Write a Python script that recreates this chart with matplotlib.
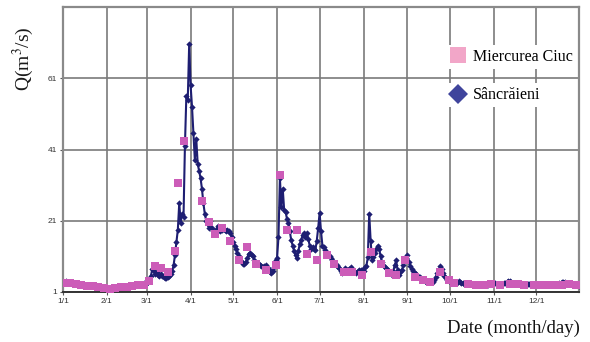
import numpy as np
import matplotlib
matplotlib.use("Agg")
import matplotlib.pyplot as plt
from matplotlib.lines import Line2D

plt.rcParams['mathtext.fontset'] = 'stix'

# Daily discharge at Sâncrăieni (m3/s), one row per month
q_sancraieni = [
    3.6, 3.8, 4.0, 3.9, 3.7, 3.6, 3.5, 3.5, 3.4, 3.3, 3.2, 3.1, 3.0, 3.0, 2.9, 2.8,
    2.8, 2.7, 2.8, 2.9, 2.8, 2.7, 2.6, 2.5, 2.5, 2.4, 2.3, 2.3, 2.2, 2.1, 2.0,
    2.0, 2.1, 2.2, 2.2, 2.3, 2.2, 2.1, 2.2, 2.3, 2.4, 2.4, 2.3, 2.4, 2.5, 2.6, 2.6,
    2.5, 2.6, 2.7, 2.8, 2.9, 3.0, 3.0, 3.1, 3.2, 3.3, 3.4, 3.5,
    3.6, 3.8, 4.2, 5.5, 7.5, 7.0, 6.0, 6.5, 5.8, 5.5, 6.0, 5.6, 5.3, 5.0, 5.0, 5.3,
    5.6, 6.0, 6.8, 8.5, 11.5, 15, 18.5, 26, 20.5, 23, 22, 42, 56, 55, 70.5,
    59, 53, 45.5, 38, 44, 37, 35, 33, 30, 26, 23, 21, 20, 19, 21,
    19, 18, 17.5, 18.5, 19.5, 18.5, 18, 18.5, 19, 18.5, 18, 18.5, 18, 17.5, 16.5,
    15, 14, 13, 12, 11, 10, 9.5, 9, 9, 9.5, 10.5, 11.8, 12, 11.3, 11, 10,
    9.2, 9, 8.8, 8.5, 8.3, 8, 8.2, 8.5, 8, 7.5, 6.5, 6.3, 7, 8, 10,
    10.5, 16.5, 33, 25, 30, 24, 23.5, 21.5, 20.5, 18, 15.5, 14, 12.5, 11.3, 10.5,
    12.5, 14.5, 15.5, 17, 17.5, 16.3, 17.6, 16, 14, 13.2, 13.5, 13, 12.7, 15.4, 19,
    23.2, 18, 14, 13.5, 12.7, 12, 11.3, 11, 10.5, 10, 9.3, 9, 8.5, 8, 7.7, 7,
    6.3, 7.2, 7.7, 7.3, 7.1, 7.5, 8, 7.3, 6.6, 6.5, 6.3, 6.8, 7.1, 7.1, 7.1,
    7, 8, 8.3, 10.7, 23, 15.4, 9.9, 10.7, 12, 13, 14, 13.2, 11, 9.3, 8.5, 8,
    7.7, 7.2, 6.8, 6.2, 5.7, 7, 8.5, 9.9, 7.1, 5.7, 6.5, 7.1, 8.5, 10, 10.5,
    11.3, 9.5, 8.3, 7.5, 6.8, 6.4, 6, 5.6, 5.3, 5.1, 4.7, 4.3, 4.1, 3.9, 3.8,
    3.8, 3.8, 3.7, 3.9, 4.5, 5.2, 6.3, 7.2, 8.2, 7.5, 6.3, 5.4, 4.9, 4.5, 4.2,
    4.0, 3.8, 3.6, 3.5, 3.5, 3.6, 4.0, 3.8, 3.5, 3.4, 3.3, 3.3, 3.2, 3.2, 3.3, 3.2,
    3.2, 3.1, 3.1, 3.2, 3.2, 3.1, 3.1, 3.0, 3.1, 3.2, 3.1, 3.1, 3.2, 3.3, 3.5,
    3.6, 3.4, 3.3, 3.2, 3.2, 3.3, 3.3, 3.4, 3.6, 3.9, 4.2, 4.0, 3.7, 3.5, 3.4,
    3.3, 3.4, 3.5, 3.5, 3.4, 3.3, 3.2, 3.2, 3.3, 3.3, 3.2, 3.2, 3.1, 3.1, 3.2,
    3.2, 3.3, 3.3, 3.2, 3.2, 3.1, 3.1, 3.2, 3.2, 3.1, 3.1, 3.1, 3.2, 3.2, 3.3, 3.3,
    3.4, 3.5, 3.7, 3.9, 3.8, 3.6, 3.5, 3.4, 3.4, 3.3, 3.2, 3.1, 3.0, 2.9, 2.8,
]

# Miercurea Ciuc measurements (day of year, 0 = Jan 1)
mc_days = [1, 5, 9, 13, 17, 21, 25, 29, 33, 37, 41, 45, 49, 53, 57,
           61, 65, 69, 74, 79, 81, 85, 98, 103, 107, 112, 118, 124, 130, 136,
           143, 150, 153, 158, 165, 172, 179, 186, 191, 198, 204, 211, 217, 224,
           230, 235, 241, 248, 254, 259, 266, 272, 276, 286, 291, 297, 302, 308,
           315, 321, 325, 332, 337, 342, 347, 352, 357, 362]
q_miercurea = [3.6, 3.4, 3.2, 3.0, 2.8, 2.7, 2.5, 2.2, 1.8, 2.2, 2.3, 2.5, 2.6, 2.9, 3.1,
               4.0, 8.2, 7.7, 6.6, 12.4, 31.6, 43.5, 26.6, 20.7, 17.4, 19, 15.2, 9.9, 13.5, 8.8,
               7.1, 8.5, 33.8, 18.5, 18.5, 11.8, 10.1, 11.5, 9, 6.6, 6.6, 5.7, 12.1, 9,
               6.3, 5.7, 10.1, 5.2, 4.3, 3.8, 6.6, 4.3, 3.5, 3.2, 3.1, 3.0, 3.2, 3.1,
               3.3, 3.2, 3.1, 3.0, 3.1, 3.1, 3.0, 3.1, 3.2, 3.0]

month_starts = [0, 31, 59, 90, 120, 151, 181, 212, 243, 273, 304, 334]
month_labels = ['1/1', '2/1', '3/1', '4/1', '5/1', '6/1', '7/1', '8/1', '9/1', '10/1', '11/1', '12/1']
y_ticks = [1, 21, 41, 61]

days = np.arange(len(q_sancraieni))

fig = plt.figure(figsize=(5.9, 3.42), dpi=100)
ax = fig.add_axes([0.1068, 0.1462, 0.8746, 0.8333])

ax.plot(days, q_sancraieni, color='#1e1e72', lw=1.5, marker='D', markersize=3.2,
        markeredgewidth=0, zorder=3)
ax.plot(mc_days, q_miercurea, linestyle='none', marker='s', markersize=5.5,
        color='#cc5cb8', markeredgewidth=0, zorder=4)

ax.set_xlim(0, 364)
ax.set_ylim(1, 81)
ax.set_xticks(month_starts)
ax.set_xticklabels(month_labels)
ax.set_yticks(y_ticks)
ax.grid(True, color='#7a7a7a', lw=1.2)
ax.set_axisbelow(True)
ax.tick_params(axis='both', labelsize=6, labelcolor='#333333', color='#555555',
               length=2.5, width=0.8, pad=2)
for lab in ax.get_xticklabels() + ax.get_yticklabels():
    lab.set_family('Liberation Sans')
for side in ['top', 'right', 'left']:
    ax.spines[side].set_color('#8a8a8a')
    ax.spines[side].set_linewidth(1.6)
ax.spines['bottom'].set_color('#333333')
ax.spines['bottom'].set_linewidth(1.4)

ax.set_ylabel(r'Q(m$^{3}$/s)', family='Liberation Serif', fontsize=14, color='#1a1a1a')
ax.yaxis.set_label_coords(-0.052, 0.82)
fig.text(0.983, 0.04, 'Date (month/day)', family='Liberation Serif', fontsize=13.5,
         ha='right', va='center', color='#111111')

# two separate legend boxes so the gridline shows between the entries
h_mc = Line2D([], [], linestyle='none', marker='s', markersize=11,
              color='#f2a6c8', markeredgewidth=0)
h_sa = Line2D([], [], linestyle='none', marker='D', markersize=10,
              color='#3f449c', markeredgewidth=0)
leg_kw = dict(loc='center left', frameon=True, facecolor='white', edgecolor='none',
              framealpha=1, fancybox=False, handlelength=1.0, handletextpad=0.45,
              borderpad=0.25, prop={'family': 'Liberation Serif', 'size': 11.5})
leg1 = ax.legend([h_mc], ['Miercurea Ciuc'], bbox_to_anchor=(0.727, 0.825), **leg_kw)
ax.add_artist(leg1)
ax.legend([h_sa], ['Sâncrăieni'], bbox_to_anchor=(0.727, 0.69), **leg_kw)

fig.savefig('out.png', dpi=100)
